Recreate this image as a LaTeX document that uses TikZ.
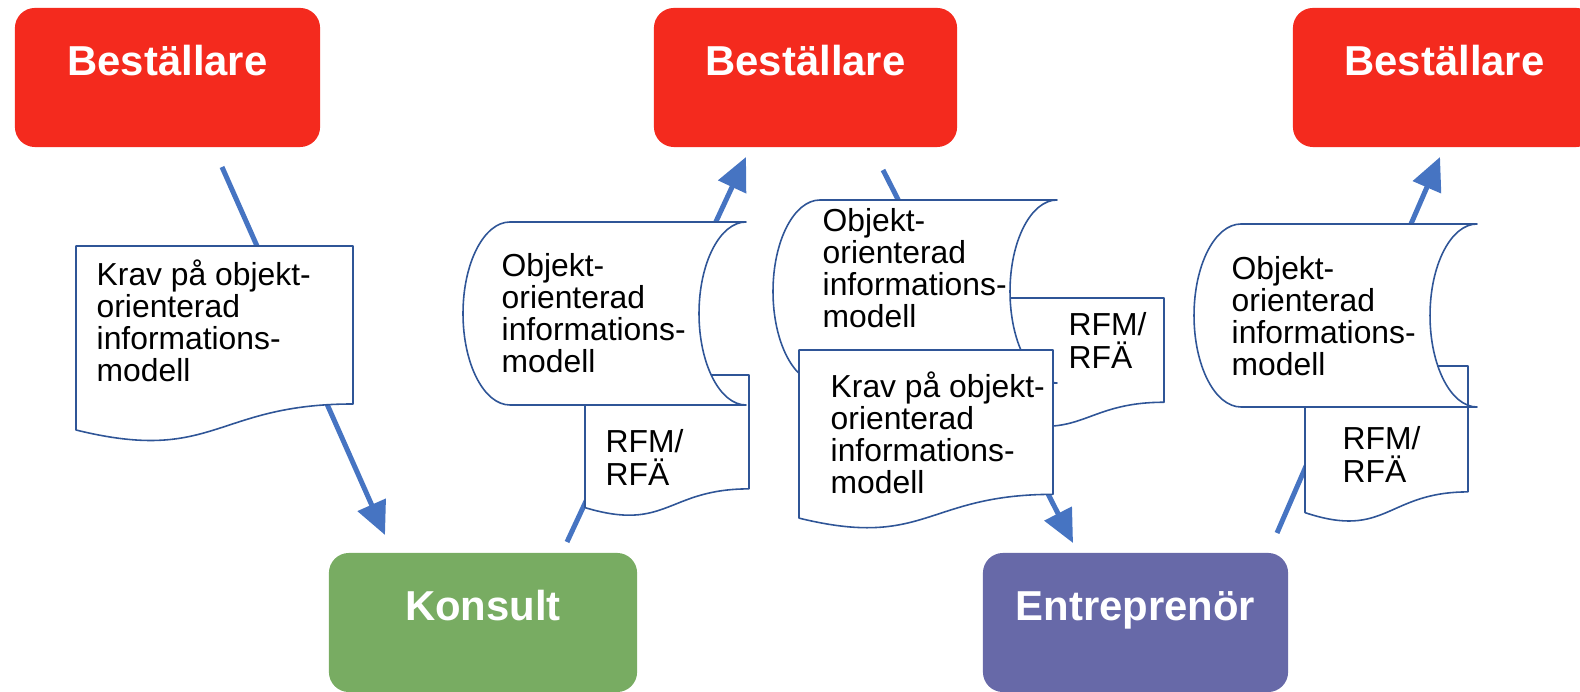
\documentclass[tikz,border=0pt]{standalone}
\usepackage{fontspec}
\setmainfont{Liberation Sans}
\usetikzlibrary{arrows.meta}
\definecolor{bred}{RGB}{244,42,30}
\definecolor{bgreen}{RGB}{120,172,98}
\definecolor{bpurple}{RGB}{103,105,168}
\definecolor{ablue}{RGB}{70,116,194}
\definecolor{oblue}{RGB}{47,85,151}
\tikzset{
  box/.style={rounded corners=0.2cm, inner sep=0pt, text=white,
    font=\fontsize{11.9}{14}\selectfont\bfseries,
    text height=0.68cm, text depth=0.71cm, minimum height=1.39cm},
  flow/.style={draw=ablue, line width=1.42pt, -{Triangle[length=9.4pt,width=8.5pt]}},
  outl/.style={draw=oblue, line width=0.45pt, fill=white, line join=round},
  body/.style={inner sep=0pt, align=left, anchor=base west,
    font=\fontsize{9.05}{9.1}\selectfont},
  rfm/.style={inner sep=0pt, align=left, anchor=base west,
    font=\fontsize{9.05}{9.4}\selectfont},
}
\newcommand{\wdoc}[4]{%
  \path[outl] (#1,#2) -- ({#1+#3},#2) -- ({#1+#3},{#2+0.802*#4})
    .. controls ({#1+0.5*#3},{#2+0.802*#4}) and ({#1+0.5*#3},{#2+1.1075*#4}) ..
    (#1,{#2+0.934*#4}) -- cycle;}
\newcommand{\stdata}[4]{%
  \pgfmathsetmacro{\sdM}{(#2+#4)/2}%
  \pgfmathsetmacro{\sdK}{0.5523*(#4-#2)/2}%
  \path[outl] ({#1+47},#2) -- (#3,#2)
    .. controls ({#3-26},#2) and ({#3-47},{\sdM-\sdK}) .. ({#3-47},\sdM)
    .. controls ({#3-47},{\sdM+\sdK}) and ({#3-26},#4) .. (#3,#4)
    -- ({#1+47},#4)
    .. controls ({#1+21},#4) and (#1,{\sdM+\sdK}) .. (#1,\sdM)
    .. controls (#1,{\sdM-\sdK}) and ({#1+21},#2) .. ({#1+47},#2) -- cycle;}
\begin{document}
\begin{tikzpicture}[x=0.01cm, y=-0.01cm]
\useasboundingbox (0,0) rectangle (1580,692);
% boxes
\node[box, fill=bred, minimum width=3.05cm] (b1) at (167.5,77.5) {Beställare};
\node[box, fill=bred, minimum width=3.03cm] (b2) at (805.5,77.5) {Beställare};
\node[box, fill=bred, minimum width=3.03cm] (b3) at (1444.5,77.5) {Beställare};
\node[box, fill=bgreen, minimum width=3.08cm] (kons) at (483,622.5) {Konsult};
\node[box, fill=bpurple, minimum width=3.05cm] (entr) at (1135.5,622.5) {Entreprenör};
% connector end points
\coordinate (a1s) at (222,167);  \coordinate (a1e) at (385,535);
\coordinate (a2s) at (567,542);  \coordinate (a2e) at (746,157);
\coordinate (a3s) at (883,170);  \coordinate (a3e) at (1073,543);
\coordinate (a4s) at (1277,533); \coordinate (a4e) at (1440,157);
% group 1
\draw[flow] (a1s) -- (a1e);
\wdoc{76}{246}{277}{197}
\node[body] (krav1) at (96,382) {Krav på objekt-\\orienterad\\informations-\\modell};
% group 2
\draw[flow] (a2s) -- (a2e);
\wdoc{585}{375}{164}{142}
\node[rfm] (rfm1) at (605,486) {RFM/\\RFÄ};
\stdata{463}{222}{746}{405}
\node[body] (obj1) at (501,373) {Objekt-\\orienterad\\informations-\\modell};
% group 3
\draw[flow] (a3s) -- (a3e);
\wdoc{1001}{298}{163}{130}
\node[rfm] (rfm2) at (1068,369) {RFM/\\RFÄ};
\stdata{773}{200}{1057}{383}
\node[body] (obj2) at (822,328) {Objekt-\\orienterad\\informations-\\modell};
\wdoc{799}{350}{254}{180}
\node[body] (krav2) at (830,494) {Krav på objekt-\\orienterad\\informations-\\modell};
% group 4
\draw[flow] (a4s) -- (a4e);
\wdoc{1305}{366}{163}{157}
\node[rfm] (rfm3) at (1342,483) {RFM/\\RFÄ};
\stdata{1194}{224}{1477}{407}
\node[body] (obj3) at (1231,376) {Objekt-\\orienterad\\informations-\\modell};
\end{tikzpicture}
\end{document}
